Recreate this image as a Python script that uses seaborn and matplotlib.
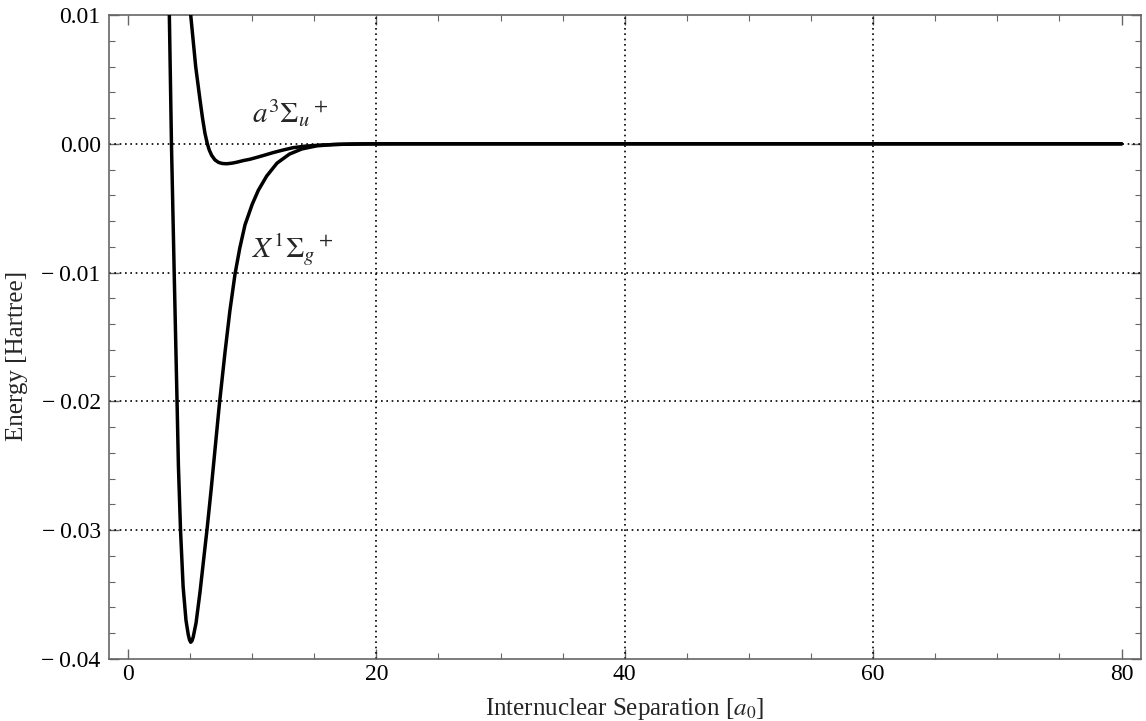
import numpy as np
import pandas as pd
import matplotlib
matplotlib.use("Agg")
import matplotlib.pyplot as plt
import seaborn as sns
from matplotlib.ticker import MultipleLocator, FixedLocator

# ---- data (R in a0, E in Hartree) ----
r_singlet = [3.29, 3.33, 3.50, 3.72, 3.95, 4.06, 4.23, 4.44, 4.67, 4.85, 4.95,
             5.05, 5.15, 5.25, 5.48, 5.80, 6.10, 6.38, 6.70, 7.00, 7.35, 7.81,
             8.20, 8.62, 9.00, 9.42, 10.0, 10.5, 11.17, 12.0, 13.0, 14.0, 15.2,
             16.5, 18.0, 20.0, 40.0, 60.0, 80.0]
e_singlet = [0.0125, 0.0100, 0.0000, -0.0100, -0.0200, -0.0250, -0.0300, -0.0344,
             -0.0370, -0.0381, -0.0385, -0.0387, -0.0386, -0.0383, -0.0372, -0.0348,
             -0.0322, -0.0298, -0.0268, -0.0238, -0.0203, -0.0162, -0.0130, -0.0101,
             -0.0081, -0.0063, -0.0047, -0.0036, -0.0025, -0.0015, -0.0008, -0.0004,
             -0.00016, -0.00006, -0.00002, 0.0, 0.0, 0.0, 0.0]

r_triplet = [4.95, 5.05, 5.45, 5.80, 6.00, 6.20, 6.39, 6.55, 6.74, 7.00, 7.30,
             7.60, 7.95, 8.40, 8.80, 9.30, 9.82, 10.5, 11.0, 11.7, 12.5, 13.3,
             14.3, 15.5, 17.0, 19.0, 22.0, 40.0, 60.0, 80.0]
e_triplet = [0.0112, 0.0100, 0.0060, 0.0034, 0.0020, 0.0008, 0.0, -0.0005,
             -0.0009, -0.00125, -0.00145, -0.00153, -0.00155, -0.0015, -0.00142,
             -0.0013, -0.0012, -0.00102, -0.00088, -0.00068, -0.00048, -0.0003,
             -0.00018, -0.0001, -0.00004, -0.00001, 0.0, 0.0, 0.0, 0.0]

x_ticks = [0, 20, 40, 60, 80]
y_ticks = [-0.04, -0.03, -0.02, -0.01, 0.00, 0.01]
y_tick_labels = ["\u2212\u20090.04", "\u2212\u20090.03", "\u2212\u20090.02",
                 "\u2212\u20090.01", "0.00", "0.01"]
x_grid = [20, 40, 60]
y_grid = [0.0, -0.01, -0.02, -0.03]

df = pd.concat([
    pd.DataFrame({"R": r_singlet, "E": e_singlet, "state": "X"}),
    pd.DataFrame({"R": r_triplet, "E": e_triplet, "state": "a"}),
])

sns.set_style("ticks")
plt.rcParams["font.family"] = ["Liberation Serif", "DejaVu Serif"]
plt.rcParams["mathtext.fontset"] = "stix"

fig = plt.figure(figsize=(11.46, 7.21), dpi=100)
ax = fig.add_axes([0.0951, 0.0860, 0.9956 - 0.0951, 0.9792 - 0.0860])

for g in x_grid:
    ax.axvline(g, color="black", lw=1.2, ls=(0, (1, 2.2)), zorder=1)
for g in y_grid:
    ax.axhline(g, color="black", lw=1.2, ls=(0, (1, 2.2)), zorder=1)

sns.lineplot(data=df, x="R", y="E", units="state", estimator=None, sort=False,
             color="black", lw=2.5, ax=ax, legend=False, zorder=3)

ax.set_xlim(-1.53, 81.56)
ax.set_ylim(-0.04, 0.01)

ax.xaxis.set_major_locator(FixedLocator(x_ticks))
ax.xaxis.set_minor_locator(MultipleLocator(5))
ax.set_yticks(y_ticks)
ax.set_yticklabels(y_tick_labels)
ax.yaxis.set_minor_locator(MultipleLocator(0.002))

ax.tick_params(which="both", direction="in", top=True, right=True,
               color="#666666", labelsize=17, labelcolor="black")
ax.tick_params(which="major", length=7, width=1.0)
ax.tick_params(which="minor", length=4, width=0.8)
ax.tick_params(axis="x", which="major", pad=3.5)
ax.tick_params(axis="y", which="major", pad=6)
for s in ax.spines.values():
    s.set_color("#666666")
    s.set_linewidth(1.2)

ax.set_xlabel(r"Internuclear Separation [$a_0$]", fontsize=18)
ax.set_ylabel("Energy [Hartree]", fontsize=18)
ax.xaxis.set_label_coords(0.5, -0.058)
ax.yaxis.set_label_coords(-0.078, 0.47)

ax.text(10.0, 0.0016, r"$a^3\Sigma_u{}^+$", fontsize=21, ha="left", va="baseline")
ax.text(10.0, -0.0089, r"$X^1\Sigma_g{}^+$", fontsize=21, ha="left", va="baseline")

fig.savefig("out.png", dpi=100)
